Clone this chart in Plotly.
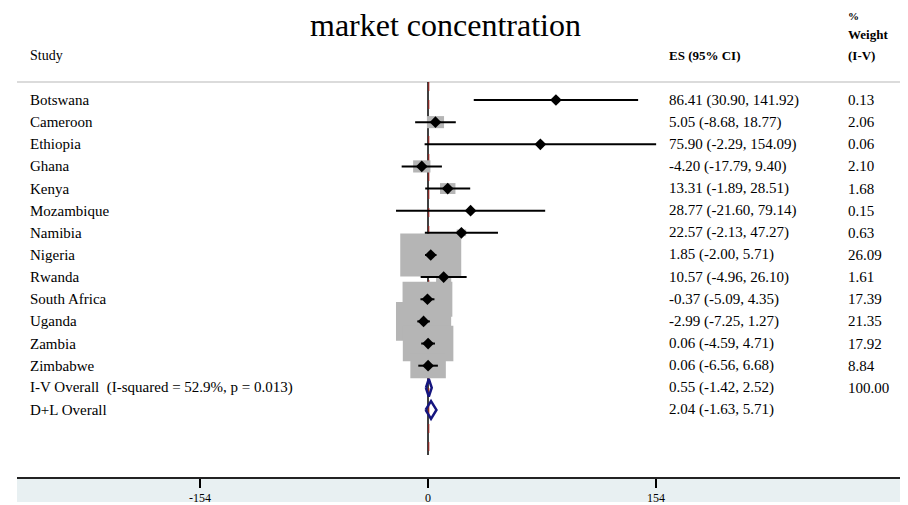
import plotly.graph_objects as go
import numpy as np

# ---------------- data ----------------
studies = ["Botswana", "Cameroon", "Ethiopia", "Ghana", "Kenya", "Mozambique",
           "Namibia", "Nigeria", "Rwanda", "South Africa", "Uganda", "Zambia",
           "Zimbabwe"]
es = [86.41, 5.05, 75.90, -4.20, 13.31, 28.77, 22.57, 1.85, 10.57, -0.37, -2.99, 0.06, 0.06]
lo = [30.90, -8.68, -2.29, -17.79, -1.89, -21.60, -2.13, -2.00, -4.96, -5.09, -7.25, -4.59, -6.56]
hi = [141.92, 18.77, 154.09, 9.40, 28.51, 79.14, 47.27, 5.71, 26.10, 4.35, 1.27, 4.71, 6.68]
weights = [0.13, 2.06, 0.06, 2.10, 1.68, 0.15, 0.63, 26.09, 1.61, 17.39, 21.35, 17.92, 8.84]

overall_labels = ["I-V Overall  (I-squared = 52.9%, p = 0.013)", "D+L Overall"]
overall_es = [0.55, 2.04]
overall_lo = [-1.42, -1.63]
overall_hi = [2.52, 5.71]
overall_weight_text = ["100.00", ""]

tick_vals = [-154, 0, 154]
tick_text = ["-154", "0", "154"]

title_text = "market concentration"

# ---------------- layout geometry (page pixels; page body has an 8px margin) ----------------
OFF = 8
FW, FH = 908 - OFF, 505 - OFF
PL, PR, PT, PB = 17, 908, OFF, 477          # plot area in page pixels
ML, MB = PL - OFF, 505 - PB
row0_px, row_px = 100.0, 22.14
px_per_unit = 228 / 154
zero_px = 428
x_range = [(PL - zero_px) / px_per_unit, (PR - zero_px) / px_per_unit]

def py(p):
    return (p - row0_px) / row_px

def pxp(x):
    return (x - PL) / (PR - PL)

y_range = [py(PB), py(PT)]

FONT = "Liberation Serif"
BOX_W, BOX_H = 11.94, 8.42
NAVY = "#15157f"
BOXGRAY = "#b5b5b5"

n = len(studies)
rows = list(range(n))
orows = [n, n + 1]

fig = go.Figure()

shapes = []
# band under the axis
shapes.append(dict(type="rect", xref="paper", yref="paper", x0=0, x1=1,
                   y0=-(502 - PB) / (PB - PT), y1=0, fillcolor="#e8f0f2",
                   line=dict(width=0), layer="below"))
# header rule
shapes.append(dict(type="line", xref="paper", yref="y", x0=0, x1=1,
                   y0=py(82), y1=py(82), line=dict(color="#cfcfcf", width=1.5),
                   layer="below"))
# null line and overall line
shapes.append(dict(type="line", xref="x", yref="y", x0=0, x1=0,
                   y0=py(82), y1=py(455), line=dict(color="black", width=1.5),
                   layer="below"))
shapes.append(dict(type="line", xref="x", yref="y", x0=overall_es[0], x1=overall_es[0],
                   y0=py(82), y1=py(455), line=dict(color="#a0201c", width=1, dash="dash"),
                   layer="below"))
# weight boxes
for i in rows:
    bw = BOX_W * np.sqrt(weights[i])
    bh = BOX_H * np.sqrt(weights[i])
    shapes.append(dict(type="rect", xref="x", yref="y",
                       xsizemode="pixel", ysizemode="pixel",
                       xanchor=es[i], yanchor=i,
                       x0=-bw / 2, x1=bw / 2, y0=-bh / 2, y1=bh / 2,
                       fillcolor=BOXGRAY, line=dict(width=0), layer="below"))

# CI lines
cx, cy = [], []
for i in rows:
    cx += [lo[i], hi[i], None]
    cy += [i, i, None]
fig.add_trace(go.Scatter(x=cx, y=cy, mode="lines", line=dict(color="black", width=2),
                         hoverinfo="skip", showlegend=False))
# point estimates
fig.add_trace(go.Scatter(x=es, y=rows, mode="markers",
                         marker=dict(symbol="diamond", size=9, color="black"),
                         showlegend=False))
# overall diamonds
for k, r in enumerate(orows):
    h = 0.4
    fig.add_trace(go.Scatter(
        x=[overall_lo[k], overall_es[k], overall_hi[k], overall_es[k], overall_lo[k]],
        y=[r, r - h, r, r + h, r], mode="lines",
        line=dict(color=NAVY, width=2.5), showlegend=False))

ann = []
def text(x, y, s, size=15, bold=False, xanchor="left"):
    ann.append(dict(x=pxp(x), y=y, xref="paper", yref="y", text=(f"<b>{s}</b>" if bold else s),
                    showarrow=False, xanchor=xanchor, yanchor="middle",
                    font=dict(family=FONT, size=size, color="black")))

# title + headers
text(445, py(25), title_text, size=32, xanchor="center")
text(28, py(55), "Study", size=14)
text(667, py(55), "ES (95% CI)", size=13, bold=True)
text(846, py(16), "%", size=11, bold=True)
text(846, py(34), "Weight", size=13, bold=True)
text(846, py(55), "(I-V)", size=13, bold=True)

for i in rows:
    text(28, i, studies[i])
    text(667, i, f"{es[i]:.2f} ({lo[i]:.2f}, {hi[i]:.2f})")
    text(846, i, f"{weights[i]:.2f}")
for k, r in enumerate(orows):
    text(28, r, overall_labels[k])
    text(667, r, f"{overall_es[k]:.2f} ({overall_lo[k]:.2f}, {overall_hi[k]:.2f})")
    if overall_weight_text[k]:
        text(846, r, overall_weight_text[k])

fig.update_layout(
    width=FW, height=FH, margin=dict(l=ML, r=0, t=0, b=MB, pad=0),
    paper_bgcolor="white", plot_bgcolor="white",
    shapes=shapes, annotations=ann, showlegend=False,
    xaxis=dict(range=x_range, tickvals=tick_vals, ticktext=tick_text,
               ticks="outside", ticklen=9, tickwidth=1.5, tickcolor="black",
               showline=True, linecolor="#222222", linewidth=2,
               showgrid=False, zeroline=False, fixedrange=True,
               tickfont=dict(family=FONT, size=12, color="black")),
    yaxis=dict(range=y_range, visible=False, showgrid=False, zeroline=False),
)

fig.write_html("out.html")
